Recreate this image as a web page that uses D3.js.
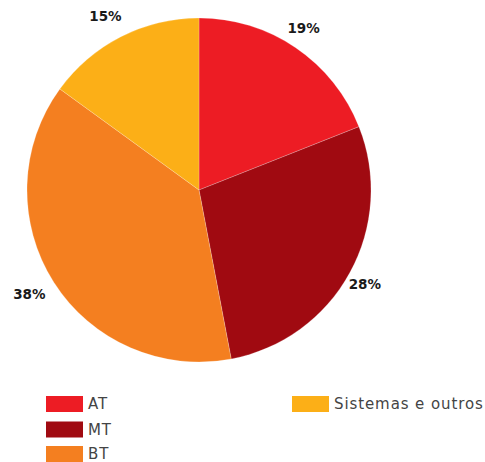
<!DOCTYPE html>
<html>
<head>
<meta charset="utf-8">
<script src="https://cdn.jsdelivr.net/npm/d3@7"></script>
<style>
  body { margin: 0; background: #fff; }
</style>
</head>
<body>
<div class="container"></div>
<script>
const WIDTH = 485;
const HEIGHT = 462;
const CX = 199;
const CY = 190;
const RADIUS = 172;

var categories = ["AT", "MT", "BT", "Sistemas e outros"];
var values = [19, 28, 38, 15];
var colors = ["#ED1C24", "#A00A11", "#F47F20", "#FCAF17"];

var svg = d3.select(".container")
    .append("svg")
    .attr("width", WIDTH)
    .attr("height", HEIGHT);

var pie = d3.pie()
    .sort(null)
    .value(function (d) { return d; });

var arc = d3.arc()
    .innerRadius(0)
    .outerRadius(RADIUS);

var labelArc = d3.arc()
    .innerRadius(195)
    .outerRadius(195);

var g = svg.append("g")
    .attr("transform", "translate(" + CX + "," + CY + ")");

var arcs = pie(values);

g.selectAll("path")
    .data(arcs)
    .enter()
    .append("path")
    .attr("d", arc)
    .attr("fill", function (d, i) { return colors[i]; })
    .attr("stroke", "#fff")
    .attr("stroke-opacity", 0.35)
    .attr("stroke-width", 0.6);

// labels sit a little left of the arc centroid in the original
g.selectAll("text")
    .data(arcs)
    .enter()
    .append("text")
    .attr("transform", function (d) {
        var c = labelArc.centroid(d);
        return "translate(" + (c[0] - 5) + "," + c[1] + ")";
    })
    .attr("dy", "0.35em")
    .attr("text-anchor", "middle")
    .attr("font-family", "'DejaVu Sans', sans-serif")
    .attr("font-weight", "bold")
    .attr("font-size", 13.5)
    .attr("fill", "#1a1a1a")
    .text(function (d) { return d.data + "%"; });

// legend: two columns
var legendCols = [46, 292];
var legendRows = [396, 421.5, 446];
var legend = svg.selectAll(".legend")
    .data(categories)
    .enter()
    .append("g")
    .attr("class", "legend")
    .attr("transform", function (d, i) {
        var col = i < 3 ? 0 : 1;
        var row = i < 3 ? i : 0;
        return "translate(" + legendCols[col] + "," + legendRows[row] + ")";
    });

legend.append("rect")
    .attr("width", 37)
    .attr("height", 16)
    .attr("fill", function (d, i) { return colors[i]; });

legend.append("text")
    .attr("x", 42)
    .attr("y", 8)
    .attr("dy", "0.36em")
    .attr("font-family", "'DejaVu Sans', sans-serif")
    .attr("font-size", 15)
    .attr("letter-spacing", 0.9)
    .attr("fill", "#444")
    .text(function (d) { return d; });
</script>
</body>
</html>
